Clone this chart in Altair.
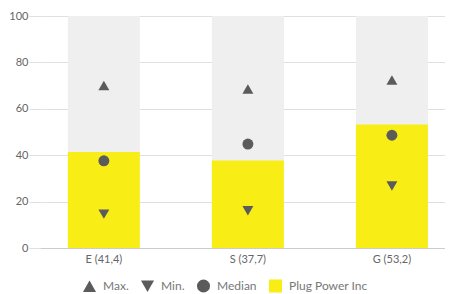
import altair as alt
import pandas as pd

categories = ["E (41,4)", "S (37,7)", "G (53,2)"]
scores = [41.4, 37.7, 53.2]
max_vals = [70.0, 68.5, 72.4]
min_vals = [14.6, 16.1, 26.7]
median_vals = [37.6, 44.8, 48.6]
series_names = ["Max.", "Min.", "Median", "Plug Power Inc"]

bars_df = pd.DataFrame({
    "cat": categories,
    "score": scores,
    "full": [100] * len(categories),
    "series": ["Plug Power Inc"] * len(categories),
})
pts_df = pd.DataFrame({
    "cat": categories * 3,
    "value": max_vals + min_vals + median_vals,
    "series": ["Max."] * 3 + ["Min."] * 3 + ["Median"] * 3,
})

FONT = "Lato"
GRAY = "#5b5b5b"
YELLOW = "#f8ee16"

color_scale = alt.Scale(domain=series_names, range=[GRAY, GRAY, GRAY, YELLOW])
shape_scale = alt.Scale(domain=series_names,
                        range=["triangle-up", "triangle-down", "circle", "square"])

xenc = alt.X("cat:N", sort=categories,
             scale=alt.Scale(paddingInner=0.5, paddingOuter=0.156, align=0.62),
             axis=alt.Axis(title=None, labelAngle=0, ticks=False, domainColor="#cccccc",
                           labelColor="#666666", labelFontSize=11, labelPadding=5,
                           labelFont=FONT))
yscale = alt.Scale(domain=[0, 100])
yaxis = alt.Axis(title=None, values=[0, 20, 40, 60, 80, 100], domain=False,
                 gridColor="#e0e0e0", tickColor="#e0e0e0", tickSize=11,
                 labelColor="#666666", labelFontSize=11, labelPadding=1,
                 labelFont=FONT, minExtent=32, maxExtent=32)

bg = alt.Chart(bars_df).mark_bar(color="#efefef").encode(
    x=xenc, y=alt.Y("full:Q", scale=yscale, axis=yaxis))

bars = alt.Chart(bars_df).mark_bar(opacity=1).encode(
    x=xenc,
    y=alt.Y("score:Q", scale=yscale),
    color=alt.Color("series:N", scale=color_scale,
                    legend=alt.Legend(title=None, orient="none", direction="horizontal",
                                      legendX=42, legendY=262, padding=0,
                                      labelFont=FONT, labelFontSize=12, labelColor="#777777",
                                      labelOffset=6, symbolSize=170, columnPadding=11,
                                      symbolOpacity=1)),
)

points = alt.Chart(pts_df).mark_point(filled=True, opacity=1, size=120).encode(
    x=xenc,
    y=alt.Y("value:Q", scale=yscale),
    color=alt.Color("series:N", scale=color_scale),
    shape=alt.Shape("series:N", scale=shape_scale),
)

chart = alt.layer(bg, bars, points).properties(
    width=405, height=232,
    padding={"left": 0, "top": 2, "right": 0, "bottom": 0},
).configure_view(stroke=None)

chart.save("out.html", embed_options={"renderer": "svg", "actions": False})
